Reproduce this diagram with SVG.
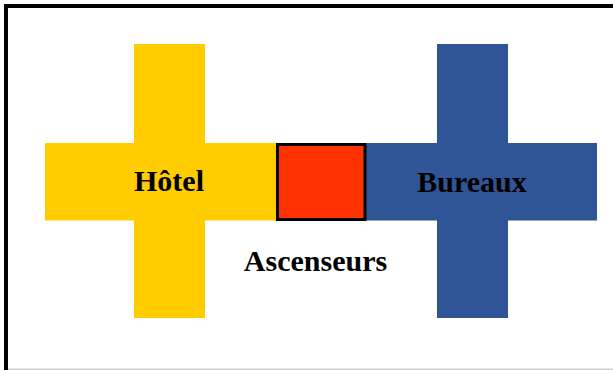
<svg xmlns="http://www.w3.org/2000/svg" width="613" height="370" viewBox="0 0 613 370">
<style>
.lbl{font-family:"Liberation Serif","Times New Roman",serif;font-weight:bold;font-size:30px;fill:#000;text-anchor:middle}
</style>
<rect x="0" y="0" width="613" height="370" fill="#fff"/>
<g id="frame">
<rect x="4" y="4" width="609" height="4" fill="#000"/>
<rect x="4" y="4" width="4" height="366" fill="#000"/>
<rect x="8" y="368.5" width="605" height="1.5" fill="#d0d0d0"/>
</g>
<g id="hotel">
<rect x="134" y="44" width="71" height="274" fill="#FFCC00"/>
<rect x="45" y="143" width="232" height="77.5" fill="#FFCC00"/>
<text class="lbl" x="169" y="191">Hôtel</text>
</g>
<g id="bureaux">
<rect x="437" y="44" width="71" height="274" fill="#2F5597"/>
<rect x="364" y="143" width="233" height="77.5" fill="#2F5597"/>
<text class="lbl" x="472" y="191.5">Bureaux</text>
</g>
<g id="ascenseurs">
<rect x="277.5" y="144.5" width="87.5" height="75" fill="#FF3300" stroke="#000" stroke-width="3"/>
<text class="lbl" x="315.5" y="270.5">Ascenseurs</text>
</g>
<g id="connectors"/>
</svg>
